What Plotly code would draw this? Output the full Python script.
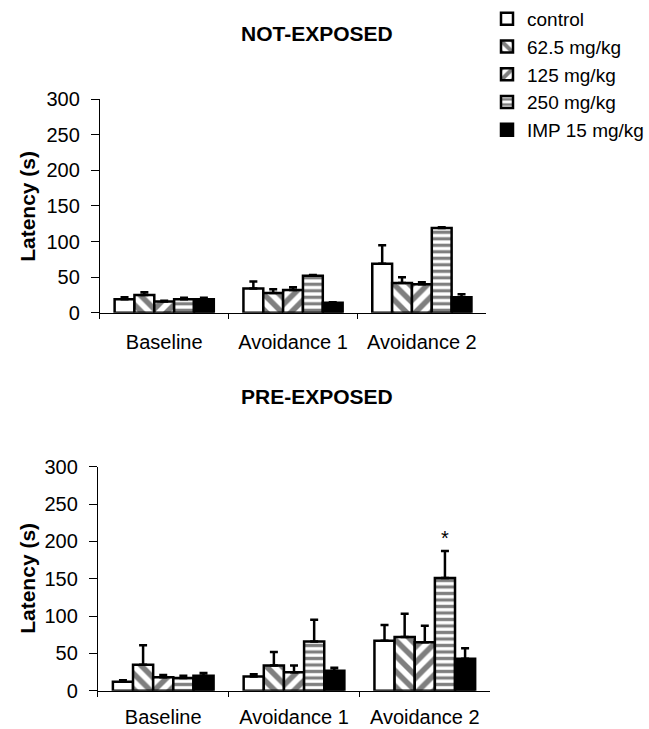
import plotly.graph_objects as go

categories = ["Baseline", "Avoidance 1", "Avoidance 2"]
series = ["control", "62.5 mg/kg", "125 mg/kg", "250 mg/kg", "IMP 15 mg/kg"]

# NOT-EXPOSED means and upper SEM
ne_control = [19, 34, 69]
ne_625 = [25, 28, 42]
ne_125 = [16, 32, 40]
ne_250 = [19, 52, 119]
ne_imp = [19, 14, 22]

ne_control_err = [3, 10, 26]
ne_625_err = [4, 5, 8]
ne_125_err = [1, 4, 3]
ne_250_err = [2, 1, 1]
ne_imp_err = [2, 1, 4]

# PRE-EXPOSED means and upper SEM
pe_control = [12, 19, 67]
pe_625 = [35, 34, 72]
pe_125 = [18, 25, 65]
pe_250 = [17, 66, 151]
pe_imp = [20, 27, 43]

pe_control_err = [2, 3, 21]
pe_625_err = [26, 18, 31]
pe_125_err = [3, 9, 22]
pe_250_err = [3, 29, 36]
pe_imp_err = [4, 4, 14]

y_ticks = [0, 50, 100, 150, 200, 250, 300]

ne_vals = [ne_control, ne_625, ne_125, ne_250, ne_imp]
ne_errs = [ne_control_err, ne_625_err, ne_125_err, ne_250_err, ne_imp_err]
pe_vals = [pe_control, pe_625, pe_125, pe_250, pe_imp]
pe_errs = [pe_control_err, pe_625_err, pe_125_err, pe_250_err, pe_imp_err]

styles = [
    dict(color="white", pattern=None),
    dict(color="white", pattern=dict(shape="\\", fgcolor="black", bgcolor="white", size=11, solidity=0.5)),
    dict(color="white", pattern=dict(shape="/", fgcolor="black", bgcolor="white", size=11, solidity=0.5)),
    dict(color="white", pattern=dict(shape="-", fgcolor="black", bgcolor="white", size=6.5, solidity=0.5)),
    dict(color="black", pattern=None),
]

FONT = "Liberation Sans, Arial, sans-serif"
fig = go.Figure()


def add_panel(vals, errs, xa, ya, show):
    for name, v, e, st in zip(series, vals, errs, styles):
        marker = dict(color=st["color"], line=dict(color="black", width=2.5))
        if st["pattern"] is not None:
            marker["pattern"] = st["pattern"]
        fig.add_trace(go.Bar(
            x=categories, y=v, name=name, legendgroup=name, showlegend=show,
            marker=marker, xaxis=xa, yaxis=ya,
            error_y=dict(type="data", symmetric=False, array=e,
                         arrayminus=[0] * len(e), color="black",
                         thickness=2.5, width=4),
        ))


add_panel(ne_vals, ne_errs, "x", "y", True)
add_panel(pe_vals, pe_errs, "x2", "y2", False)

W, H = 649, 729


def px_x(p):
    return p / W


def px_y(p):
    return 1 - p / H


xcommon = dict(type="category", showline=True, linecolor="black", linewidth=1,
               ticks="outside", ticklen=5, tickcolor="black", tickson="boundaries",
               showgrid=False, zeroline=False, automargin=False,
               tickfont=dict(family=FONT, size=20, color="black"))
ycommon = dict(range=[0, 300], tickvals=y_ticks, showline=True, linecolor="black",
               linewidth=1, ticks="outside", ticklen=8, tickcolor="black",
               showgrid=False, zeroline=False, automargin=False,
               tickfont=dict(family=FONT, size=20, color="black"),
               ticklabelstandoff=7)

fig.update_layout(
    width=W, height=H,
    margin=dict(l=0, r=0, t=0, b=0),
    paper_bgcolor="white", plot_bgcolor="white",
    barmode="group", bargap=0.23, bargroupgap=0,
    font=dict(family=FONT, color="black"),
    xaxis=dict(domain=[px_x(102), px_x(497)], anchor="y", ticklabelstandoff=11, **xcommon),
    yaxis=dict(domain=[px_y(311.7), px_y(97.3)], anchor="x", **ycommon),
    xaxis2=dict(domain=[px_x(100), px_x(501)], anchor="y2", ticklabelstandoff=8, **xcommon),
    yaxis2=dict(domain=[px_y(690.7), px_y(466)], anchor="x2", **ycommon),
    legend=dict(x=px_x(498), y=px_y(-2), xanchor="left", yanchor="top",
                font=dict(family=FONT, size=19, color="black"),
                bgcolor="rgba(0,0,0,0)", traceorder="normal"),
    showlegend=True,
)

annotations = [
    dict(text="<b>NOT-EXPOSED</b>", x=px_x(324), y=px_y(32), xref="paper", yref="paper",
         showarrow=False, xanchor="center", yanchor="middle",
         font=dict(family=FONT, size=21, color="black")),
    dict(text="<b>PRE-EXPOSED</b>", x=px_x(324), y=px_y(396), xref="paper", yref="paper",
         showarrow=False, xanchor="center", yanchor="middle",
         font=dict(family=FONT, size=21, color="black")),
    dict(text="<b>Latency (s)</b>", x=px_x(28), y=px_y(205), xref="paper", yref="paper",
         showarrow=False, xanchor="center", yanchor="middle", textangle=-90,
         font=dict(family=FONT, size=21, color="black")),
    dict(text="<b>Latency (s)</b>", x=px_x(28), y=px_y(578), xref="paper", yref="paper",
         showarrow=False, xanchor="center", yanchor="middle", textangle=-90,
         font=dict(family=FONT, size=21, color="black")),
    dict(text="*", x=categories[2], y=pe_250[2] + pe_250_err[2], xref="x2", yref="y2",
         xshift=20, yshift=0, showarrow=False, xanchor="center", yanchor="bottom",
         font=dict(family=FONT, size=20, color="black")),
]
fig.update_layout(annotations=annotations)

fig.write_html(
    "out.html",
    config={"displayModeBar": False},
    post_script="document.body.style.margin='0';document.body.style.padding='0';"
                "document.body.style.overflow='hidden';",
)
